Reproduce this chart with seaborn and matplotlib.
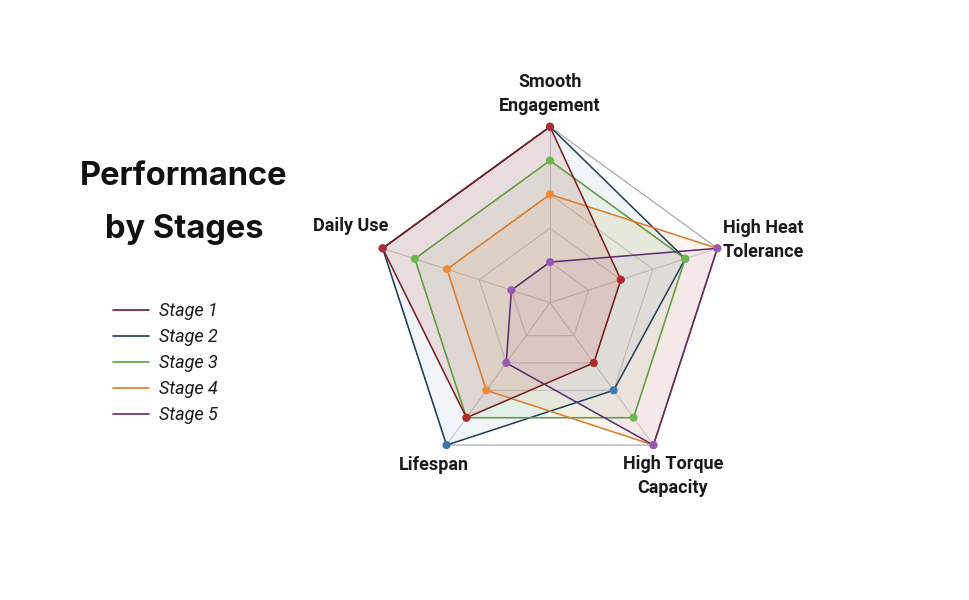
import numpy as np
import pandas as pd
import matplotlib.pyplot as plt
from matplotlib.lines import Line2D
import seaborn as sns

# Radar data (scale 1-5), axes go clockwise from the top
categories = ["Smooth\nEngagement", "High Heat\nTolerance", "High Torque\nCapacity", "Lifespan", "Daily Use"]
stages = ["Stage 1", "Stage 2", "Stage 3", "Stage 4", "Stage 5"]
stage_1 = [5, 2, 2, 4, 5]
stage_2 = [5, 4, 3, 5, 5]
stage_3 = [4, 4, 4, 4, 4]
stage_4 = [3, 5, 5, 3, 3]
stage_5 = [1, 5, 5, 2, 1]
levels = [1, 2, 3, 4, 5]

line_colors = ["#7a1a1a", "#1f3d5c", "#5e9e3c", "#e07a26", "#5b2a70"]
dot_colors = ["#b3282a", "#3b77b0", "#6cb84a", "#f08b32", "#9a58b5"]
fill_alpha = [0.12, 0.07, 0.08, 0.08, 0.08]
line_pal = dict(zip(stages, line_colors))
dot_pal = dict(zip(stages, dot_colors))
alpha_of = dict(zip(stages, fill_alpha))
# stage 1 sits on top of the others
draw_order = stages[1:] + stages[:1]

sns.set_style("white")
plt.rcParams["font.family"] = ["Roboto", "DejaVu Sans"]

n = len(categories)
angles = np.linspace(0, 2 * np.pi, n, endpoint=False)

rows = []
for stage, vals in zip(stages, [stage_1, stage_2, stage_3, stage_4, stage_5]):
    for i, v in enumerate(vals + vals[:1]):
        rows.append({"stage": stage, "angle": angles[i] if i < n else 2 * np.pi,
                     "value": v, "closing": i == n})
df = pd.DataFrame(rows)
df["stage"] = pd.Categorical(df["stage"], categories=draw_order, ordered=True)
df = df.sort_values("stage", kind="stable")

fig = plt.figure(figsize=(9.7, 6), dpi=100)
cx, cy, rad = 550 / 970, 1 - 302.7 / 600, 176
ax = fig.add_axes([cx - rad / 970, cy - rad / 600, 2 * rad / 970, 2 * rad / 600], polar=True)
ax.set_theta_offset(np.pi / 2)
ax.set_theta_direction(-1)
ax.set_ylim(-0.2, 5)
ax.set_yticks([])
ax.set_xticks(angles)
ax.set_xticklabels([])
ax.xaxis.grid(True, color="#cfcfcf", linewidth=0.8)
ax.yaxis.grid(False)
ax.spines["polar"].set_visible(False)
ax.set_facecolor("none")

# pentagon rings
closed = np.append(angles, 2 * np.pi)
for lv in levels:
    ax.plot(closed, [lv] * (n + 1), color="#a0a0a0" if lv == levels[-1] else "#cfcfcf",
            linewidth=0.8, zorder=1, clip_on=False)

# fills
for stage in draw_order:
    grp = df[df["stage"] == stage]
    ax.fill(grp["angle"], grp["value"], color=dot_pal[stage],
            alpha=alpha_of[stage], zorder=2, linewidth=0)

sns.lineplot(data=df, x="angle", y="value", hue="stage", hue_order=draw_order,
             palette=line_pal, sort=False, estimator=None, linewidth=1.1,
             legend=False, ax=ax, zorder=3, clip_on=False)
sns.scatterplot(data=df[~df["closing"]], x="angle", y="value", hue="stage",
                hue_order=draw_order, palette=dot_pal, s=34, linewidth=0,
                legend=False, ax=ax, zorder=4, clip_on=False)
ax.set_xlabel("")
ax.set_ylabel("")

# category labels
offsets = [(0, 23.5), (33, 6), (14, -22.5), (-9, -14), (-23, 16)]
for ang, lab, off in zip(angles, categories, offsets):
    ax.annotate(lab, xy=(ang, levels[-1]), xytext=off, textcoords="offset points",
                ha="center", va="center", fontsize=13, fontweight="bold",
                color="#1a1a1a", linespacing=1.45)

fig.text(184 / 970, 1 - 203 / 600, "Performance\nby Stages", ha="center", va="center",
         fontsize=23.5, fontweight="bold", family=["Inter", "DejaVu Sans"],
         color="#111111", linespacing=1.95)

handles = [Line2D([0], [0], color=c, linewidth=1.2) for c in line_colors]
leg = fig.legend(handles, stages, loc="upper left", bbox_to_anchor=(113 / 970, 1 - 302 / 600),
                 frameon=False, handlelength=2.0, handletextpad=0.55, labelspacing=0.45,
                 borderpad=0, borderaxespad=0,
                 prop={"family": "Roboto", "style": "italic", "size": 13})
for t in leg.get_texts():
    t.set_color("#1a1a1a")

fig.savefig("out.png", dpi=100, facecolor="white")
